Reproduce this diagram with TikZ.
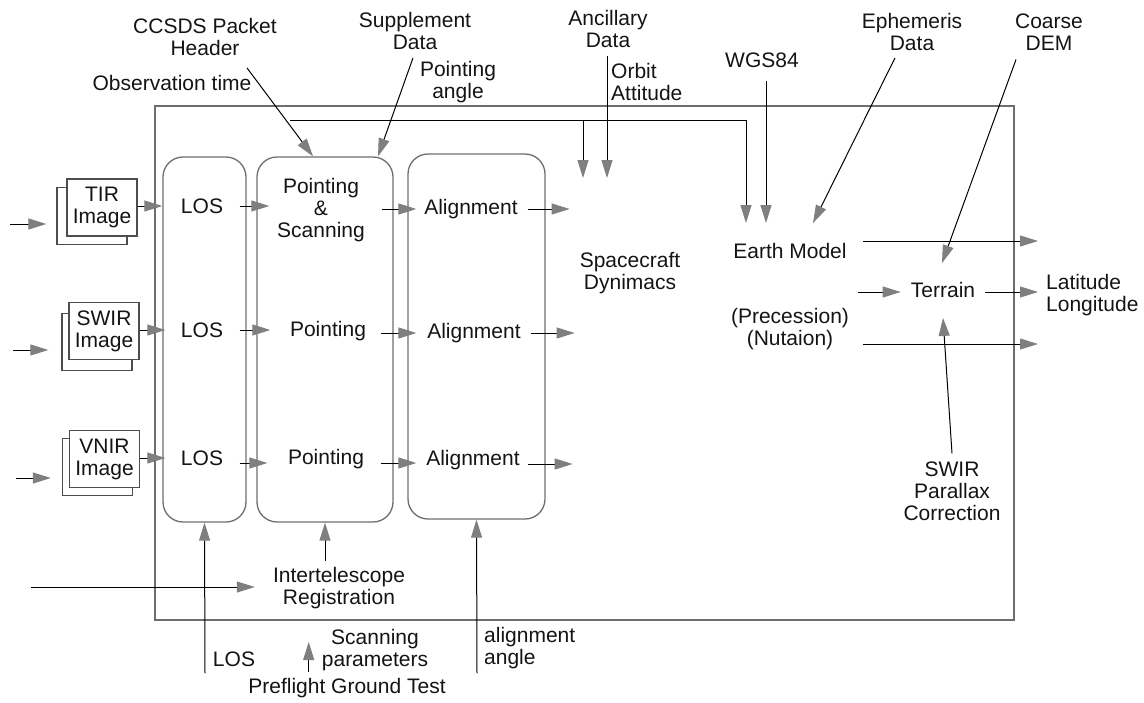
\documentclass[tikz,border=0pt]{standalone}
\usepackage{fontspec}
\setmainfont{Liberation Sans}
\usetikzlibrary{arrows.meta}
\definecolor{tipgray}{HTML}{7F7F7F}
\definecolor{boxgray}{HTML}{6E6E6E}
\definecolor{ink}{HTML}{141414}
\tikzset{
  txt/.style={inner sep=0pt, align=center, text=ink, font=\fontsize{21}{22}\selectfont},
  txtl/.style={txt, align=left, anchor=west},
  colbox/.style={draw=boxgray, line width=1.3pt, rounded corners=20pt, minimum height=365pt, inner sep=0pt},
  imgbox/.style={draw=boxgray!70!black, line width=1.3pt, fill=white, minimum width=70pt, minimum height=57pt,
    inner sep=0pt, align=center, text=ink, font=\fontsize{21}{22}\selectfont},
  arr/.style={line width=1pt, draw=black, -{Triangle[length=18pt,width=11pt,color=tipgray]}},
  plain/.style={line width=1pt, draw=black},
  frameline/.style={draw=boxgray, line width=1.6pt, inner sep=0pt},
}
\begin{document}
\begin{tikzpicture}[x=1pt,y=-1pt]
\useasboundingbox (0,0) rectangle (1144,702);

% outer frame
\node[frameline, minimum width=859pt, minimum height=514pt] (frame) at (584.5,363) {};

% processing columns
\node[colbox, minimum width=83pt]  (losbox) at (204.5,339.5) {};
\node[colbox, minimum width=136pt] (ptbox)  at (325,339.5) {};
\node[colbox, minimum width=137pt] (albox)  at (476.5,336.5) {};

% stacked image inputs
\node[imgbox] (img1back) at (92,216) {};
\node[imgbox] (img1) at (102,207.5) {TIR\\Image};
\node[imgbox] (img2back) at (97,342) {};
\node[imgbox] (img2) at (104,331) {SWIR\\Image};
\node[imgbox] (img3back) at (97.5,467) {};
\node[imgbox] (img3) at (104.5,459) {VNIR\\Image};

% column texts
\node[txt] (los1) at (202,206) {LOS};
\node[txt] (los2) at (202,330) {LOS};
\node[txt] (los3) at (202,458) {LOS};
\node[txt] (pt1) at (321,210) {Pointing\\\&\\Scanning};
\node[txt] (pt2) at (328,331) {Pointing};
\node[txt] (pt3) at (326,459) {Pointing};
\node[txt] (al1) at (471,209) {Alignment};
\node[txt] (al2) at (474,333) {Alignment};
\node[txt] (al3) at (473,460) {Alignment};

% right part texts
\node[txt] (sc) at (630,273) {Spacecraft\\Dynimacs};
\node[txt] (earth) at (790,251) {Earth Model};
\node[txt] (prec) at (790,329) {(Precession)\\(Nutaion)};
\node[txt] (terr) at (943,290) {Terrain};
\node[txtl] (latlon) at (1046,295) {Latitude\\Longitude};
\node[txt] (par) at (952,491) {SWIR\\Parallax\\Correction};

% top texts
\node[txt] (ccsds) at (205,37) {CCSDS Packet\\Header};
\node[txt] (obs) at (172,83) {Observation time};
\node[txt] (sup) at (415,31) {Supplement\\Data};
\node[txt] (pang) at (458,82) {Pointing\\angle};
\node[txt] (anc) at (608,29) {Ancillary\\Data};
\node[txtl] (orb) at (611,82) {Orbit\\Attitude};
\node[txt] (wgs) at (762,60) {WGS84};
\node[txt] (eph) at (912,32) {Ephemeris\\Data};
\node[txt] (dem) at (1049,32) {Coarse\\DEM};

% bottom texts
\node[txt] (inter) at (339,588) {Intertelescope\\Registration};
\node[txt] (loslab) at (234,659) {LOS};
\node[txt] (scan) at (375,650) {Scanning\\parameters};
\node[txt] (pre) at (347,688) {Preflight Ground Test};
\node[txtl] (alang) at (484,648) {alignment\\angle};

% free ends
\coordinate (in1) at (10,224);
\coordinate (in2) at (13,350);
\coordinate (in3) at (16,478);
\coordinate (tline) at (290,120);
\coordinate (scin1) at (583,178);
\coordinate (scin2) at (607,178);
\coordinate (tin) at (858,292);
\coordinate (regin) at (31,587);
\coordinate (losfoot) at (205,673);
\coordinate (alfoot) at (477,673);

% image inputs
\draw[arr] (in1) -- ([xshift=-10pt]img1back.west |- in1);
\draw[arr] (in2) -- ([xshift=-13pt]img2back.west |- in2);
\draw[arr] (in3) -- ([xshift=-11pt]img3back.west |- in3);

% row 1
\draw[arr] (img1.east |- los1) -- (losbox.west |- los1);
\draw[arr] ([xshift=-7pt]losbox.east |- los1) -- ([xshift=13pt]ptbox.west |- los1);
\draw[arr] ([xshift=-12pt]ptbox.east |- al1) -- ([xshift=9pt]albox.west |- al1);
\draw[arr] ([xshift=-18pt]albox.east |- al1) -- ([xshift=24pt]albox.east |- al1);
% row 2
\draw[arr] (img2.east |- los2) -- ([xshift=3pt]losbox.west |- los2);
\draw[arr] ([xshift=-7pt]losbox.east |- los2) -- ([xshift=14pt]ptbox.west |- los2);
\draw[arr] ([xshift=-13pt]ptbox.east |- al2) -- ([xshift=9pt]albox.west |- al2);
\draw[arr] ([xshift=-15pt]albox.east |- al2) -- ([xshift=29pt]albox.east |- al2);
% row 3
\draw[arr] (img3.east |- los3) -- ([xshift=3pt]losbox.west |- los3);
\draw[arr] ([xshift=-7pt,yshift=-5pt]losbox.east |- los3) -- ([xshift=11pt,yshift=-5pt]ptbox.west |- los3);
\draw[arr] ([xshift=-13pt,yshift=-3pt]ptbox.east |- al3) -- ([xshift=9pt,yshift=-3pt]albox.west |- al3);
\draw[arr] ([xshift=-18pt,yshift=-4pt]albox.east |- al3) -- ([xshift=27pt,yshift=-4pt]albox.east |- al3);

% top inputs
\draw[arr] ([xshift=42pt,yshift=-12pt]ccsds.south) -- ([xshift=-12pt]ptbox.north);
\draw[arr] ([xshift=-2pt,yshift=-8pt]sup.south) -- ([xshift=53pt]ptbox.north);
\draw[arr] (tline) -| ([xshift=-44pt,yshift=20pt]earth.north);
\draw[arr] (tline -| scin1) -- (scin1);
\draw[arr] ([xshift=-1pt,yshift=-8pt]anc.south) -- (scin2);
\draw[arr] ([xshift=4pt,yshift=-13pt]wgs.south) -- ([xshift=-24pt,yshift=20pt]earth.north);
\draw[arr] ([xshift=-17pt,yshift=-7pt]eph.south) -- ([xshift=23pt,yshift=20pt]earth.north);
\draw[arr] ([xshift=-33pt,yshift=-9pt]dem.south) -- ([xshift=-1pt,yshift=19pt]terr.north);

% earth model outputs
\draw[arr] ([xshift=16pt,yshift=10pt]earth.east) coordinate (eo) -- ([xshift=-8pt]eo -| latlon.west);
\draw[arr] (tin) -- ([xshift=-10pt]terr.west |- tin);
\draw[arr] ([xshift=10pt]terr.east |- tin) -- ([xshift=-8pt]latlon.west |- tin);
\draw[arr] ([xshift=14pt,yshift=-15pt]prec.east) coordinate (po) -- ([xshift=-8pt]po -| latlon.west);
\draw[arr] ([yshift=8pt]par.north) -- ([yshift=-20pt]terr.south);

% bottom inputs
\draw[arr] (losfoot) -- (losbox.south);
\draw[arr] ([yshift=6pt]inter.north -| ptbox.south) -- (ptbox.south);
\draw[arr] (alfoot) -- (albox.south);
\draw[arr] (regin) -- ([xshift=-18pt]inter.west |- regin);
\draw[arr] ([xshift=-13pt,yshift=6pt]scan.west |- pre.north) -- ([xshift=-13pt,yshift=8pt]scan.west);
\end{tikzpicture}
\end{document}
